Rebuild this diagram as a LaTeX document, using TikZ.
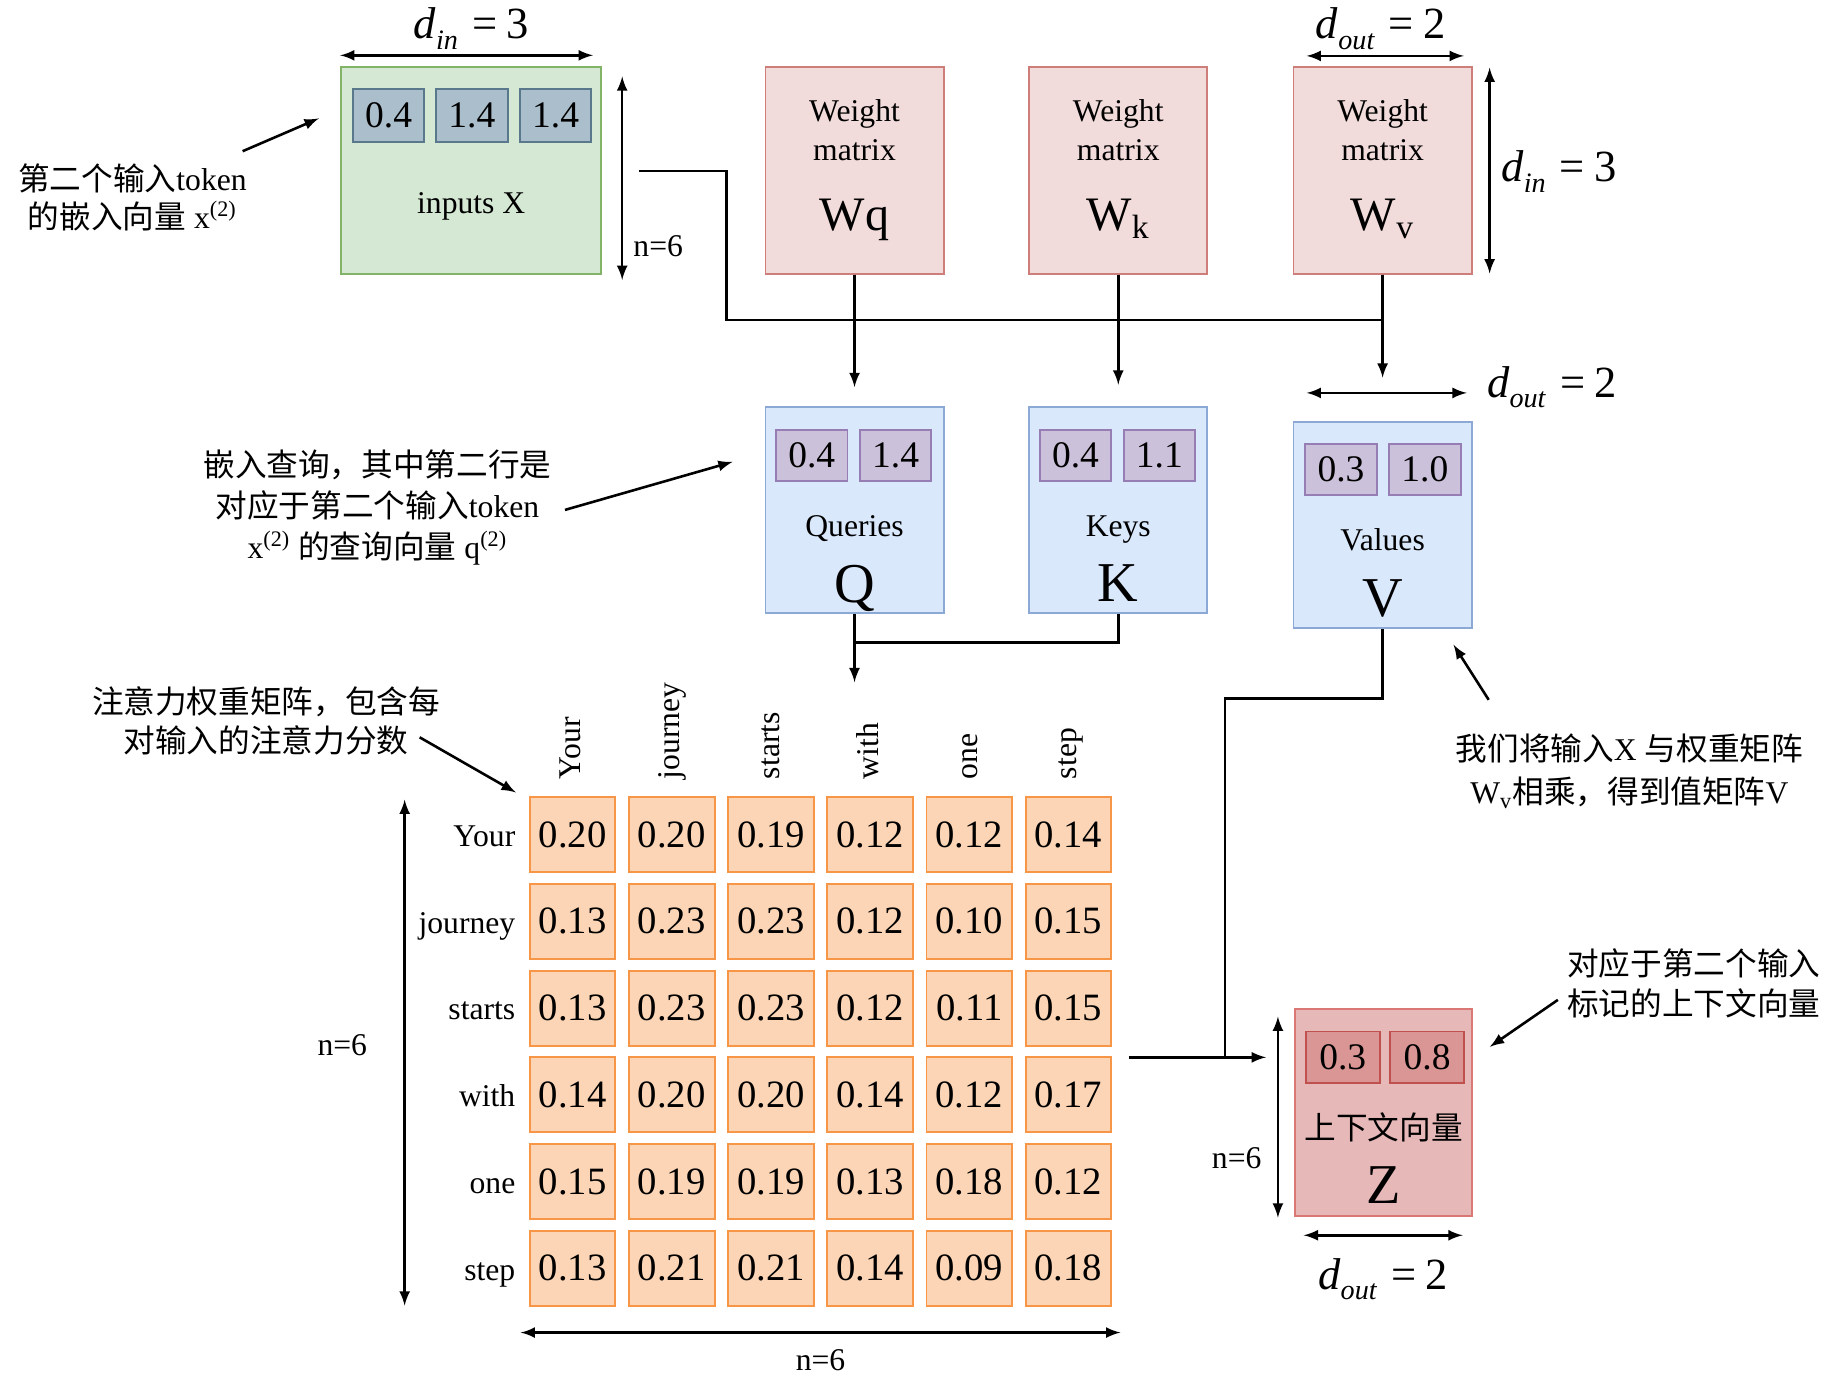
\documentclass[tikz,border=0pt]{standalone}
\usepackage{fontspec}
\setmainfont{Liberation Serif}
\newfontfamily\cjk{Noto Sans CJK SC}

\definecolor{verdeF}{RGB}{213,232,212}
\definecolor{verdeB}{RGB}{130,179,102}
\definecolor{grisF}{RGB}{170,190,203}
\definecolor{grisB}{RGB}{90,120,140}
\definecolor{rojoF}{RGB}{242,220,219}
\definecolor{rojoB}{RGB}{205,125,122}
\definecolor{azulF}{RGB}{218,232,252}
\definecolor{azulB}{RGB}{140,168,212}
\definecolor{moradoF}{RGB}{204,193,218}
\definecolor{moradoB}{RGB}{150,125,180}
\definecolor{naranjaF}{RGB}{251,213,181}
\definecolor{naranjaB}{RGB}{247,150,70}
\definecolor{zF}{RGB}{230,185,184}
\definecolor{zB}{RGB}{217,120,117}
\definecolor{zcF}{RGB}{217,150,148}
\definecolor{zcB}{RGB}{192,80,77}

% rotulo de dimension: d con subindice
\newcommand{\cotad}[2]{\textit{d}\raisebox{-4.5pt}{\fontsize{12}{12}\selectfont\textit{#1}}\hspace{6pt}=\hspace{4pt}#2}

\begin{document}
\begin{tikzpicture}[x=0.5pt, y=-0.5pt,
  caja/.style={draw, line width=0.8pt, minimum width=76pt, minimum height=88pt, inner sep=0},
  celda/.style={draw, line width=0.8pt, minimum width=30.5pt, minimum height=21.5pt, inner sep=0, font=\fontsize{16}{19}\selectfont},
  peso/.style={draw=naranjaB, fill=naranjaF, line width=0.8pt, minimum width=36.5pt, minimum height=32pt, inner sep=0, font=\fontsize{16.5}{19}\selectfont},
  texto/.style={inner sep=0, font=\fontsize{13.5}{16.5}\selectfont},
  grande/.style={inner sep=0, font=\fontsize{20.5}{24}\selectfont},
  letra/.style={inner sep=0, font=\fontsize{24}{28}\selectfont},
  cotalab/.style={inner sep=0, font=\fontsize{19}{22}\selectfont},
  flecha/.style={-latex, line width=1.1pt},
  cota/.style={latex-latex, line width=1.1pt},
  linea/.style={line width=1.1pt}]
\useasboundingbox (0,0) rectangle (1568,1188.4);

% Entrada X
\node[caja, fill=verdeF, draw=verdeB, minimum width=111pt, minimum height=88.5pt] (X) at (402,145.5) {};
\foreach \v/\x [count=\i] in {0.4/331.5,1.4/402.5,1.4/474}
  \node[celda, fill=grisF, draw=grisB, minimum height=22.5pt] (x-\i) at (\x,98.5) {\v};
\node[texto, anchor=base] (Xlab) at (402,182) {inputs X};
\draw[cota] ([yshift=4.5pt]X.north west) -- ([yshift=4.5pt,xshift=-4pt]X.north east);
\node[cotalab, anchor=base] (dinX) at (402,33) {\cotad{in}{3}};
\draw[cota] ([xshift=8.5pt,yshift=-4.5pt]X.north east) -- ([xshift=8.5pt,yshift=-2pt]X.south east);
\node[texto, anchor=base west] (nX) at (540,219) {n=6};

% Matrices de pesos
\foreach \n/\x/\t in {Wq/729/{Wq}, Wk/954/{W\textsubscript{k}}, Wv/1179.5/{W\textsubscript{v}}} {
  \node[caja, fill=rojoF, draw=rojoB] (\n) at (\x,145.5) {};
  \node[texto, anchor=base] (\n-a) at (\x,104) {Weight};
  \node[texto, anchor=base] (\n-b) at (\x,137) {matrix};
  \node[grande, anchor=base] (\n-s) at (\x,197) {\t};
}
\draw[cota] ([xshift=6pt,yshift=4.5pt]Wv.north west) -- ([xshift=-3.75pt,yshift=4.5pt]Wv.north east);
\node[cotalab, anchor=base] (doutW) at (1178,33) {\cotad{out}{2}};
\draw[cota] ([xshift=7.25pt,yshift=-0.5pt]Wv.north east) -- ([xshift=7.25pt,yshift=0.5pt]Wv.south east);
\node[cotalab, anchor=base] (dinW) at (1330,155) {\cotad{in}{3}};

% Q, K, V
\node[caja, fill=azulF, draw=azulB] (Q) at (729,435) {};
\node[celda, fill=moradoF, draw=moradoB] (q-1) at (692.5,388.5) {0.4};
\node[celda, fill=moradoF, draw=moradoB] (q-2) at (764,388.5) {1.4};
\node[texto, anchor=base] (Qlab) at (729,458) {Queries};
\node[letra, anchor=base] (Qs) at (729,514) {Q};

\node[caja, fill=azulF, draw=azulB] (K) at (954,435) {};
\node[celda, fill=moradoF, draw=moradoB] (k-1) at (917.5,388.5) {0.4};
\node[celda, fill=moradoF, draw=moradoB] (k-2) at (989,388.5) {1.1};
\node[texto, anchor=base] (Klab) at (954,458) {Keys};
\node[letra, anchor=base] (Ks) at (954,513) {K};

\node[caja, fill=azulF, draw=azulB] (V) at (1179.5,448) {};
\node[celda, fill=moradoF, draw=moradoB] (v-1) at (1144,400.5) {0.3};
\node[celda, fill=moradoF, draw=moradoB] (v-2) at (1215.5,400.5) {1.0};
\node[texto, anchor=base] (Vlab) at (1179.5,470) {Values};
\node[letra, anchor=base] (Vs) at (1179.5,526) {V};
\draw[cota] ([xshift=6pt,yshift=12pt]V.north west) -- ([xshift=-2.5pt,yshift=12pt]V.north east);
\node[cotalab, anchor=base] (doutV) at (1324,339) {\cotad{out}{2}};

% Conexiones de X y los pesos
\coordinate (xsal) at (545,146);
\draw[linea] (xsal) -| (620,273) -- (1179.5,273);
\draw[flecha] (Wq.south) -- ([yshift=8pt]Q.north);
\draw[flecha] (Wk.south) -- ([yshift=9pt]K.north);
\draw[flecha] (Wv.south) -- ([yshift=18.5pt]V.north);

% Q y K hacia la matriz de atencion
\coordinate (qk) at (729,582);
\draw[flecha] (Q.south) -- (qk);
\draw[linea] (K.south) |- (729,548);

% Matriz de pesos de atencion
\foreach \fila [count=\i from 0] in {{0.20,0.20,0.19,0.12,0.12,0.14},{0.13,0.23,0.23,0.12,0.10,0.15},{0.13,0.23,0.23,0.12,0.11,0.15},{0.14,0.20,0.20,0.14,0.12,0.17},{0.15,0.19,0.19,0.13,0.18,0.12},{0.13,0.21,0.21,0.14,0.09,0.18}}
  \foreach \v [count=\j from 0] in \fila
    \node[peso] (m-\i-\j) at (488.5+84.6*\j, 712+74*\i) {\v};
\foreach \w [count=\i from 0] in {Your,journey,starts,with,one,step} {
  \node[texto, anchor=base east] (f-\i) at (440, 722+74*\i) {\w};
  \node[texto, anchor=base west, rotate=90] (c-\i) at (495.5+84.6*\i, 665) {\w};
}
\draw[cota] ([xshift=-53pt,yshift=-1.5pt]m-0-0.north west) -- ([xshift=-53pt,yshift=0.5pt]m-5-0.south west);
\node[texto] (nMv) at (292,892) {n=6};
\draw[cota] ([xshift=-3.5pt,yshift=-11pt]m-5-0.south west) -- ([xshift=3.5pt,yshift=-11pt]m-5-5.south east);
\node[texto] (nMh) at (700,1160) {n=6};

% Vector de contexto Z
\node[caja, fill=zF, draw=zB, minimum width=75.5pt] (Z) at (1180.5,949) {};
\node[celda, fill=zcF, draw=zcB, minimum width=31.5pt, minimum height=22pt] (z-1) at (1145.5,902) {0.3};
\node[celda, fill=zcF, draw=zcB, minimum width=31.5pt, minimum height=22pt] (z-2) at (1217.5,902) {0.8};
\node[texto] (Zlab) at (1180.5,962) {\cjk 上下文向量};
\node[letra, anchor=base] (Zs) at (1180.5,1027) {Z};
\draw[cota] ([xshift=-7pt,yshift=-3.5pt]Z.north west) -- ([xshift=-7pt,yshift=-0.5pt]Z.south west);
\node[texto] (nZ) at (1055,988) {n=6};
\draw[cota] ([xshift=4pt,yshift=-8pt]Z.south west) -- ([xshift=-4.5pt,yshift=-8pt]Z.south east);
\node[cotalab, anchor=base] (doutZ) at (1180,1100) {\cotad{out}{2}};

% V y la matriz hacia Z
\draw[linea] (V.south) |- (1045,596) -- (1045,902);
\coordinate (msal) at (963,902);
\coordinate (zent) at (1080,902);
\draw[flecha] (msal) -- (zent);

% Notas
\node[texto, align=center] (notaX) at (113,168.5) {{\cjk 第二个输入}token\\{\cjk 的嵌入向量} x\textsuperscript{(2)}};
\coordinate (aX1) at (207,129); \coordinate (aX2) at (272,101);
\draw[flecha] (aX1) -- (aX2);

\node[texto, align=center, font=\fontsize{13.5}{17.5}\selectfont] (notaQ) at (322,433) {{\cjk 嵌入查询，其中第二行是}\\{\cjk 对应于第二个输入}token\\x\textsuperscript{(2)} {\cjk 的查询向量} q\textsuperscript{(2)}};
\coordinate (aQ1) at (482,435); \coordinate (aQ2) at (625,394);
\draw[flecha] (aQ1) -- (aQ2);

\node[texto, align=center, font=\fontsize{13.5}{17}\selectfont] (notaM) at (227,615) {{\cjk 注意力权重矩阵，包含每}\\{\cjk 对输入的注意力分数}};
\coordinate (aM1) at (358,629); \coordinate (aM2) at (440,676);
\draw[flecha] (aM1) -- (aM2);

\node[texto, align=center, font=\fontsize{13.5}{18}\selectfont] (notaV) at (1390,658) {{\cjk 我们将输入}X {\cjk 与权重矩阵}\\W\textsubscript{v}{\cjk 相乘，得到值矩阵}V};
\coordinate (aV1) at (1270,597); \coordinate (aV2) at (1240,550);
\draw[flecha] (aV1) -- (aV2);

\node[texto, align=left, font=\fontsize{13.5}{17}\selectfont] (notaZ) at (1445,839) {{\cjk 对应于第二个输入}\\{\cjk 标记的上下文向量}};
\coordinate (aZ1) at (1329,853); \coordinate (aZ2) at (1271,893);
\draw[flecha] (aZ1) -- (aZ2);
\end{tikzpicture}
\end{document}
